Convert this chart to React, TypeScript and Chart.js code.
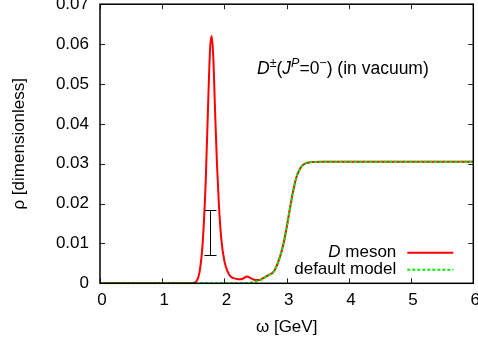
import React, { useEffect, useRef } from "react";
import { Chart, registerables } from "chart.js";

Chart.register(...registerables);

// ---- data ----
const omegaModel = [0, 1, 2, 2.3, 2.4, 2.5, 2.6, 2.7, 2.8, 2.9, 2.95, 3.0, 3.05, 3.1, 3.15, 3.2, 3.25, 3.3, 3.4, 3.6, 4, 5, 6];
const rhoModel = [0, 0, 0, 0, 0.0001, 0.0004, 0.001, 0.002, 0.0031, 0.007, 0.01, 0.014, 0.0185, 0.0228, 0.0262, 0.0283, 0.0295, 0.0301, 0.0304, 0.0305, 0.0305, 0.0305, 0.0305];

const omegaMeson = [0, 1, 1.45, 1.5, 1.55, 1.6, 1.65, 1.7, 1.74, 1.77, 1.795, 1.82, 1.85, 1.88, 1.91, 1.95, 2.0, 2.05, 2.1, 2.2, 2.25, 2.3, 2.36, 2.42, 2.5, 2.55, 2.6, 2.7, 2.8, 2.9, 2.95, 3.0, 3.05, 3.1, 3.15, 3.2, 3.25, 3.3, 3.4, 3.6, 4, 5, 6];
const rhoMeson = [0, 0, 0, 0.0001, 0.0005, 0.0028, 0.01, 0.026, 0.046, 0.059, 0.062, 0.057, 0.043, 0.03, 0.02, 0.011, 0.0055, 0.003, 0.0017, 0.0011, 0.001, 0.0012, 0.0017, 0.0013, 0.0008, 0.0008, 0.0011, 0.002, 0.0031, 0.007, 0.01, 0.014, 0.0185, 0.0228, 0.0262, 0.0283, 0.0295, 0.0301, 0.0304, 0.0305, 0.0305, 0.0305, 0.0305];

const errX = [1.77];
const errLow = [0.007];
const errHigh = [0.0184];

const xTicks = [0, 1, 2, 3, 4, 5, 6];
const yTicks = [0, 0.01, 0.02, 0.03, 0.04, 0.05, 0.06, 0.07];
const yTickLabels = ["0", "0.01", "0.02", "0.03", "0.04", "0.05", "0.06", "0.07"];

const seriesLabels = ["D meson", "default model"];
const xTitle = "ω [GeV]";
const yTitle = "ρ [dimensionless]";

const FONT = "'Liberation Sans', Arial, Helvetica, sans-serif";
const FS = 17;

const framePlugin = {
  id: "gnuFrame",
  afterDatasetsDraw(chart: any) {
    const { ctx, chartArea: a, scales } = chart;
    const xs = scales.x, ys = scales.y;
    ctx.save();
    // error bar
    ctx.strokeStyle = "#000";
    ctx.lineWidth = 1;
    for (let i = 0; i < errX.length; i++) {
      const px = Math.round(xs.getPixelForValue(errX[i])) + 0.5;
      const p1 = ys.getPixelForValue(errLow[i]);
      const p2 = ys.getPixelForValue(errHigh[i]);
      ctx.beginPath();
      ctx.moveTo(px, p1); ctx.lineTo(px, p2);
      ctx.moveTo(px - 6, Math.round(p1) + 0.5); ctx.lineTo(px + 6, Math.round(p1) + 0.5);
      ctx.moveTo(px - 6, Math.round(p2) + 0.5); ctx.lineTo(px + 6, Math.round(p2) + 0.5);
      ctx.stroke();
    }
    // ticks (inward, mirrored)
    const tl = 5;
    ctx.strokeStyle = "#222";
    ctx.lineWidth = 1;
    ctx.beginPath();
    xTicks.forEach((v) => {
      const px = Math.round(xs.getPixelForValue(v)) + 0.5;
      ctx.moveTo(px, a.bottom); ctx.lineTo(px, a.bottom - tl);
      ctx.moveTo(px, a.top); ctx.lineTo(px, a.top + tl);
    });
    yTicks.forEach((v) => {
      const py = Math.round(ys.getPixelForValue(v)) + 0.5;
      ctx.moveTo(a.left, py); ctx.lineTo(a.left + tl, py);
      ctx.moveTo(a.right, py); ctx.lineTo(a.right - tl, py);
    });
    ctx.stroke();
    // frame
    ctx.strokeStyle = "#000";
    ctx.lineWidth = 1.5;
    ctx.strokeRect(a.left, a.top, a.right - a.left, a.bottom - a.top);

    // legend
    const ds = chart.data.datasets;
    ctx.textAlign = "right";
    ctx.textBaseline = "middle";
    const lx = a.right - 77;
    const rows = [a.top + 248.5, a.top + 265.5];
    ctx.font = `${FS}px ${FONT}`;
    const mesonW = ctx.measureText(" meson").width;
    ctx.fillStyle = "#000";
    ctx.fillText(" meson", lx, rows[0]);
    ctx.font = `italic ${FS}px ${FONT}`;
    ctx.fillText("D", lx - mesonW, rows[0]);
    ctx.font = `${FS}px ${FONT}`;
    ctx.fillText(seriesLabels[1], lx, rows[1]);
    [0, 1].forEach((di, r) => {
      const d = ds[di];
      ctx.strokeStyle = d.borderColor;
      ctx.lineWidth = d.borderWidth;
      ctx.setLineDash(d.borderDash || []);
      ctx.beginPath();
      ctx.moveTo(lx + 11, rows[r]);
      ctx.lineTo(lx + 57, rows[r]);
      ctx.stroke();
    });
    ctx.setLineDash([]);

    // annotation D±(J^P=0−) (in vacuum)
    const segs = [
      { t: "D", it: true, sup: false },
      { t: "±", it: false, sup: true },
      { t: "(", it: false, sup: false },
      { t: "J", it: true, sup: false },
      { t: "P", it: true, sup: true },
      { t: "=0", it: false, sup: false },
      { t: "−", it: false, sup: true },
      { t: ") (in vacuum)", it: false, sup: false },
    ];
    let tx = a.left + 157;
    const by = a.top + 70;
    ctx.textAlign = "left";
    ctx.textBaseline = "alphabetic";
    ctx.fillStyle = "#000";
    segs.forEach((s) => {
      const size = s.sup ? 12.5 : 17.5;
      ctx.font = `${s.it ? "italic " : ""}${size}px ${FONT}`;
      ctx.fillText(s.t, tx, s.sup ? by - 7 : by);
      tx += ctx.measureText(s.t).width;
    });
    ctx.restore();
  },
};

export default function App() {
  const ref = useRef<HTMLCanvasElement | null>(null);
  useEffect(() => {
    if (!ref.current) return;
    const chart = new Chart(ref.current, {
      type: "line",
      data: {
        datasets: [
          {
            label: seriesLabels[0],
            data: omegaMeson.map((x, i) => ({ x, y: rhoMeson[i] })),
            borderColor: "#ff0000",
            borderWidth: 2,
            pointRadius: 0,
            cubicInterpolationMode: "monotone",
            order: 1,
          },
          {
            label: seriesLabels[1],
            data: omegaModel.map((x, i) => ({ x, y: rhoModel[i] })),
            borderColor: "#00ee00",
            borderWidth: 2,
            borderDash: [3, 2],
            pointRadius: 0,
            cubicInterpolationMode: "monotone",
            order: 0,
          },
        ],
      },
      options: {
        animation: false,
        responsive: false,
        maintainAspectRatio: false,
        devicePixelRatio: 1,
        layout: { padding: { top: 8, right: 16.7, left: 0, bottom: 0 } },
        plugins: { legend: { display: false }, tooltip: { enabled: false } },
        scales: {
          x: {
            type: "linear",
            min: 0,
            max: 6,
            afterBuildTicks: (s: any) => { s.ticks = xTicks.map((v) => ({ value: v })); },
            afterFit: (s: any) => { s.height = 61.7; },
            grid: { display: false, drawTicks: false },
            border: { display: false },
            ticks: { color: "#000", font: { family: FONT, size: FS }, padding: 7, labelOffset: 2, maxRotation: 0, callback: (v: any) => String(v) },
            title: { display: true, text: xTitle, color: "#000", font: { family: FONT, size: FS }, padding: { top: 0, bottom: 7 } },
          },
          y: {
            type: "linear",
            min: 0,
            max: 0.07,
            afterBuildTicks: (s: any) => { s.ticks = yTicks.map((v) => ({ value: v })); },
            afterFit: (s: any) => { s.width = 100; },
            grid: { display: false, drawTicks: false },
            border: { display: false },
            ticks: {
              color: "#000",
              font: { family: FONT, size: FS },
              padding: 11,
              callback: (v: any) => { const i = yTicks.findIndex((t) => Math.abs(t - v) < 1e-9); return i >= 0 ? yTickLabels[i] : ""; },
            },
            title: { display: true, text: yTitle, color: "#000", font: { family: FONT, size: FS }, padding: { top: 9, bottom: 0 } },
          },
        },
      },
      plugins: [framePlugin],
    } as any);
    return () => chart.destroy();
  }, []);
  return (
    <div style={{ position: "fixed", left: 0, top: -17, width: 490, height: 362 }}>
      <canvas ref={ref} width={490} height={362} style={{ width: 490, height: 362, display: "block" }} />
    </div>
  );
}
